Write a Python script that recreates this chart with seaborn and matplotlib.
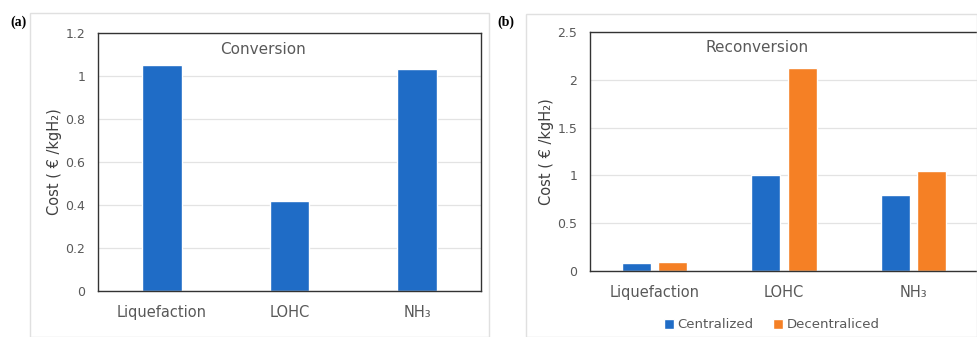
import matplotlib
matplotlib.use("Agg")
import matplotlib.pyplot as plt
import seaborn as sns
import pandas as pd
from matplotlib.patches import Rectangle

categories = ["Liquefaction", "LOHC", "NH₃"]
conversion = [1.05, 0.42, 1.03]
reconv_centralized = [0.085, 1.0, 0.80]
reconv_decentralized = [0.093, 2.12, 1.05]
series_names = ["Centralized", "Decentraliced"]

BLUE = "#1F6CC6"
ORANGE = "#F58025"
TXT = "#595959"

sns.set_theme(style="white")
plt.rcParams["font.family"] = ["DejaVu Sans"]

fig = plt.figure(figsize=(9.77, 3.37), dpi=100)

# outer chart frames
fig.patches.append(Rectangle((30/977, 0), (489-30)/977, (337-13)/337, transform=fig.transFigure,
                             fill=False, edgecolor="#E0E0E0", lw=1))
fig.patches.append(Rectangle((526/977, 0), (977-526)/977, (337-14)/337, transform=fig.transFigure,
                             fill=False, edgecolor="#E0E0E0", lw=1))

ax1 = fig.add_axes([98/977, 46/337, 383/977, 258.3/337])
ax2 = fig.add_axes([590/977, 66/337, 388/977, 239/337])

df1 = pd.DataFrame({"cat": categories, "val": conversion})
sns.barplot(data=df1, x="cat", y="val", ax=ax1, color=BLUE, width=0.31, saturation=1)

df2 = pd.DataFrame({
    "cat": categories * 2,
    "val": reconv_centralized + reconv_decentralized,
    "series": [series_names[0]] * 3 + [series_names[1]] * 3,
})
sns.barplot(data=df2, x="cat", y="val", hue="series", ax=ax2,
            palette=[BLUE, ORANGE], width=0.56, gap=0.2, saturation=1)

for ax, ylim, ticks, labels, title, lx in [
    (ax1, 1.2, [0, 0.2, 0.4, 0.6, 0.8, 1.0, 1.2], ["0", "0.2", "0.4", "0.6", "0.8", "1", "1.2"], "Conversion", -0.095),
    (ax2, 2.5, [0, 0.5, 1.0, 1.5, 2.0, 2.5], ["0", "0.5", "1", "1.5", "2", "2.5"], "Reconversion", -0.092),
]:
    ax.set_ylim(0, ylim)
    ax.set_yticks(ticks)
    ax.set_yticklabels(labels)
    ax.grid(axis="y", color="#E3E3E3", lw=0.9)
    ax.set_axisbelow(True)
    for s in ax.spines.values():
        s.set_visible(True)
        s.set_color("#333333")
        s.set_linewidth(1.0)
    ax.tick_params(axis="both", length=0, labelcolor=TXT)
    ax.tick_params(axis="y", labelsize=9, pad=9)
    ax.tick_params(axis="x", labelsize=10.5, pad=10)
    ax.set_xlabel("")
    ax.set_ylabel("Cost ( € /kgH₂)", color="#404040", fontsize=10.5)
    ax.yaxis.set_label_coords(lx, 0.5)
    ax.text(0.43, 0.935, title, transform=ax.transAxes, ha="center", va="center",
            color=TXT, fontsize=11)

leg = ax2.get_legend()
if leg is not None:
    leg.remove()
handles, labs = ax2.get_legend_handles_labels()
fig.legend(handles, labs, loc="center", bbox_to_anchor=(772/977, 12/337), ncol=2,
           frameon=False, fontsize=9.5, handlelength=0.7, handleheight=0.7,
           handletextpad=0.3, columnspacing=1.5, labelcolor=TXT)

fig.text(10/977, 1 - 22/337, "(a)", family="Liberation Serif", fontweight="bold",
         fontsize=10, va="center", ha="left", color="black")
fig.text(497/977, 1 - 22/337, "(b)", family="Liberation Serif", fontweight="bold",
         fontsize=10, va="center", ha="left", color="black")

fig.savefig("out.png", dpi=100)
